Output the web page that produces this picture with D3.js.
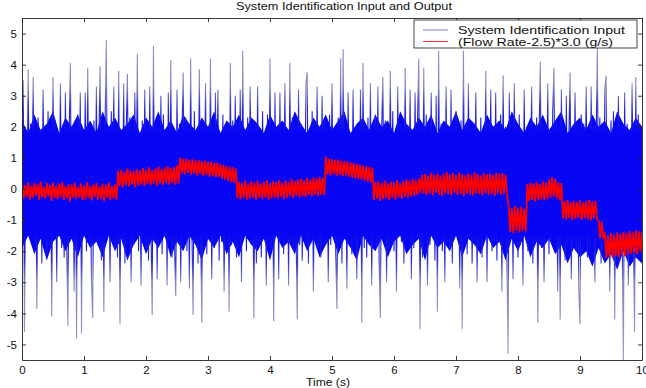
<!DOCTYPE html>
<html>
<head>
<meta charset="utf-8">
<script src="https://cdn.jsdelivr.net/npm/d3@7"></script>
<style>
body { margin: 0; background: #fff; }
svg { display: block; font-family: Arial, "Liberation Sans", sans-serif; }
</style>
</head>
<body>
<svg id="chart" width="646" height="388"></svg>
<script>
const xTicks = [0, 1, 2, 3, 4, 5, 6, 7, 8, 9, 10];
const yTicks = [-5, -4, -3, -2, -1, 0, 1, 2, 3, 4, 5];
const seriesNames = ["System Identification Input", "(Flow Rate-2.5)*3.0 (g/s)"];

// input excitation, one value every 0.02 s (spikes placed where they show)
const inputSignal = [
  2.4, 3.5, -4.6, 1.6, -1.3, 3.85, -1.5, 2.1, -0.9, 3.6,
  -1.7, 1.4, -3.85, 2.3, -1.1, 1.9, -2.4, 3.2, -1.6, 1.2,
  -2.1, 2.5, -1.2, 1.8, -4.1, 3.6, -1.4, 2.2, -3.0, 1.5,
  -0.8, 3.4, -1.9, 1.3, -2.2, 3.1, -1.5, -4.4, 1.7, 4.05,
  -1.6, 2.0, -3.3, 1.5, -4.8, 2.4, -1.2, 3.1, -4.65, 1.9,
  -1.3, 3.1, -2.0, 3.9, -1.7, 1.4, -2.9, -4.15, 2.2, -1.1,
  3.3, -1.8, 1.6, 3.95, -2.3, 1.9, -3.95, 2.1, 4.8, -1.4,
  1.7, -3.0, 2.5, -1.0, 3.3, -1.9, 1.2, -2.2, 3.8, -4.35,
  1.5, -1.6, 3.4, -2.4, 1.8, 3.7, -1.3, 2.3, -3.0, 1.4,
  -1.8, 3.1, -1.1, 4.35, -2.0, 1.7, -3.1, 2.2, -1.5, 3.2,
  -1.9, 1.3, -2.3, 3.3, -1.2, -4.05, 4.6, -1.7, 2.0, -2.9,
  1.6, -1.4, 3.0, -2.1, 2.4, -1.0, 1.9, -3.1, 3.1, -1.6,
  4.15, -2.2, 1.5, -1.8, -3.45, 3.2, -1.3, 2.1, -3.0, 1.8,
  3.75, -1.5, 2.3, -2.0, 1.4, -3.2, 4.2, -1.2, -4.05, 2.5,
  -1.7, 1.9, -2.4, 3.85, -1.1, -4.3, 2.2, -1.6, 3.4, -2.1,
  1.6, -1.3, 4.2, -2.9, 1.8, -1.9, 3.1, -1.0, 3.2, -2.3,
  1.4, -1.7, 2.4, -3.3, 2.0, -1.4, 1.7, -3.95, 4.05, -1.8,
  2.2, -1.2, 3.0, -2.2, 1.5, -1.6, 3.2, -3.0, 4.45, -1.3,
  1.9, -2.0, 2.3, -1.5, 3.3, -1.1, 1.6, -4.15, 2.1, -2.4,
  3.3, -1.7, 1.3, -2.2, 2.5, -1.4, 1.8, -3.1, 2.4, -1.6,
  4.2, -1.9, 1.7, -4.25, 3.1, -1.2, 2.0, -2.9, 3.1, -1.5,
  1.5, -2.1, 3.4, -1.3, 1.9, -3.1, 4.05, -1.6, 2.3, -2.0,
  1.6, -1.4, -4.2, 3.2, -1.8, 2.1, -2.3, 1.4, -1.1, 3.4,
  3.75, -2.4, 1.8, -1.5, 2.5, -3.3, 2.0, -1.2, 3.3, -1.9,
  1.3, -2.2, 3.0, -1.6, 2.2, -1.0, 1.7, -3.0, 2.4, -1.8,
  3.4, -1.3, 1.5, -2.0, -3.85, 2.3, -1.7, 4.2, -2.4, 4.5,
  -1.5, 1.9, -3.2, 3.1, -1.1, 1.4, -2.1, 3.2, -1.6, 2.0,
  -2.9, 1.7, -1.3, 3.2, -4.3, 4.05, -1.9, 1.5, -2.2, 2.3,
  -1.4, 3.4, -3.1, 1.6, -1.0, 2.4, -1.8, 3.3, -2.3, -4.15,
  1.8, 3.6, -1.5, 2.2, -3.0, 1.3, -1.9, 3.8, -1.2, 2.5,
  -2.0, 1.6, -3.3, 3.3, -1.4, 2.1, -1.7, 1.4, -2.4, 3.9,
  -1.6, 2.0, -1.1, 3.2, -2.9, 1.5, -1.9, 3.1, -1.3, 2.3,
  4.2, -4.5, 1.8, -2.2, 3.9, -1.5, 2.4, -3.1, 1.2, -1.8,
  3.1, -1.4, 1.9, -2.3, 3.0, -3.95, 4.45, -1.6, 2.1, -2.0,
  1.5, -3.0, 3.3, -1.2, 1.7, -1.9, 3.2, -2.4, 2.0, -1.5,
  2.5, -1.1, 1.6, -3.2, 2.2, -4.5, 4.45, -1.7, 1.4, -2.1,
  3.4, -1.6, 2.0, -2.4, 1.3, -1.3, 3.1, -3.0, 1.8, -1.8,
  2.3, -2.2, 1.5, -1.4, 3.8, -3.0, 2.1, -1.0, 3.2, -2.0,
  1.6, -1.7, 3.1, -2.3, 1.9, -1.2, 2.4, -3.3, 3.65, -1.5,
  2.0, -2.1, -5.3, 3.1, -1.6, 1.4, -2.9, 3.4, -1.3, 1.7,
  -2.2, 2.4, -1.8, 1.5, -3.1, 3.2, -1.4, 2.0, -2.0, 1.6,
  -1.1, 3.3, -2.4, 1.9, -1.6, 2.3, -4.3, 1.7, 4.1, -1.9,
  2.1, -3.0, 1.4, -1.3, 3.4, -2.1, 1.8, -1.7, 2.5, 3.9,
  -1.5, 2.2, -3.3, 1.6, -4.2, 3.2, -1.2, 2.0, -2.3, 3.0,
  -1.8, 1.5, 3.75, -2.9, 1.9, -1.4, 3.1, -2.0, 1.3, -3.2,
  -4.35, 2.4, -1.6, 2.1, -1.1, 3.3, -2.2, 1.7, -1.9, 3.3,
  -1.3, 2.0, -3.0, 1.6, 4.55, -1.7, 2.3, -2.4, 1.4, -1.5,
  3.2, 3.65, -2.0, 1.8, -3.3, 2.2, -1.2, 2.5, -4.2, 1.5,
  -1.8, 3.0, -2.3, 1.9, -1.4, -5.6, 3.1, -1.6, 2.1, -3.1,
  1.7, -1.9, 3.4, -1.3, -4.6, 3.6, -2.1, 2.4, -1.7, 2.0,
  -1.5
];

// edges of the dense blue region the input fills, every 0.1 s
const inputBandUpper = [
  2.2, 1.8, 2.4, 1.9, 2.1, 2.5, 1.8, 2.3, 2.0, 2.4,
  1.9, 2.2, 1.8, 2.5, 2.0, 2.3, 1.9, 2.1, 2.4, 1.8,
  2.3, 2.0, 2.5, 1.9, 2.2, 1.8, 2.4, 2.1, 1.9, 2.3,
  2.0, 2.5, 1.8, 2.2, 2.0, 2.4, 1.9, 2.3, 2.1, 1.8,
  2.4, 2.0, 2.2, 1.9, 2.5, 2.1, 1.8, 2.3, 2.0, 2.4,
  1.9, 2.2, 2.5, 1.8, 2.1, 2.3, 1.9, 2.4, 2.0, 2.2,
  1.8, 2.5, 2.1, 1.9, 2.3, 2.0, 2.4, 1.8, 2.2, 2.0,
  2.5, 1.9, 2.3, 2.1, 1.8, 2.4, 2.0, 2.2, 1.9, 2.5,
  2.1, 1.8, 2.3, 2.0, 2.4, 1.9, 2.2, 2.5, 1.8, 2.1,
  2.3, 1.9, 2.4, 2.0, 2.2, 1.8, 2.5, 2.1, 1.9, 2.3,
  2.0
];
const inputBandLower = [
  -1.9, -1.5, -2.1, -1.6, -2.3, -1.7, -1.5, -2.0, -1.6, -2.2,
  -1.5, -1.9, -1.7, -2.2, -1.5, -2.0, -1.6, -2.3, -1.8, -1.5,
  -2.1, -1.6, -1.9, -1.5, -2.2, -1.7, -2.0, -1.5, -1.8, -2.3,
  -1.6, -1.9, -1.5, -2.1, -1.7, -2.2, -1.5, -1.8, -2.0, -1.6,
  -2.3, -1.5, -1.9, -1.7, -2.1, -1.5, -2.0, -1.6, -2.2, -1.8,
  -1.5, -2.1, -1.6, -1.9, -2.3, -1.5, -1.8, -2.0, -1.6, -2.2,
  -1.7, -1.5, -2.1, -1.8, -1.6, -2.3, -1.5, -1.9, -1.7, -2.0,
  -1.5, -2.2, -1.6, -1.8, -2.1, -1.5, -1.9, -1.7, -2.3, -1.6,
  -2.0, -1.5, -2.2, -1.7, -1.9, -1.6, -2.1, -1.8, -2.4, -1.9,
  -2.2, -2.0, -2.5, -1.9, -2.4, -2.1, -2.6, -2.0, -2.5, -2.2,
  -2.4
];

// scaled flow rate, one value every 0.025 s
const flowOutput = [
  // 0 - 1.54 s
  0.18, -0.30, 0.12, -0.25, 0.22, -0.34, 0.10, -0.28, 0.20, -0.22,
  0.15, -0.36, 0.24, -0.27, 0.08, -0.31, 0.19, -0.24, 0.13, -0.38,
  0.21, -0.29, 0.11, -0.33, 0.17, -0.26, 0.23, -0.35, 0.09, -0.30,
  0.16, -0.40, 0.14, -0.28, 0.20, -0.32, 0.07, -0.27, 0.18, -0.36,
  0.12, -0.33, 0.22, -0.29, 0.10, -0.37, 0.15, -0.25, 0.19, -0.34,
  0.08, -0.31, 0.17, -0.39, 0.13, -0.28, 0.21, -0.35, 0.10, -0.30,
  0.14, -0.36,
  // 1.54 - 2.54 s
  0.58, 0.10, 0.62, 0.05, 0.55, 0.12, 0.66, 0.08,
  0.60, 0.14, 0.57, 0.06, 0.64, 0.11, 0.59, 0.15, 0.68, 0.09,
  0.62, 0.16, 0.70, 0.12, 0.61, 0.18, 0.66, 0.10, 0.72, 0.17,
  0.64, 0.13, 0.69, 0.19, 0.74, 0.15, 0.67, 0.20, 0.71, 0.14,
  0.76, 0.18,
  // 2.54 - 3.47 s
  1.02, 0.50, 0.96, 0.47, 0.98, 0.52, 0.94, 0.46,
  0.95, 0.49, 0.92, 0.44, 0.93, 0.48, 0.90, 0.42, 0.91, 0.45,
  0.87, 0.40, 0.88, 0.43, 0.84, 0.37, 0.85, 0.39, 0.80, 0.33,
  0.78, 0.30, 0.74, 0.26, 0.72, 0.22, 0.70, 0.20, 0.66,
  // 3.47 - 4.89 s
  -0.30,
  0.24, -0.33, 0.20, -0.28, 0.27, -0.35, 0.18, -0.30, 0.25, -0.27,
  0.21, -0.36, 0.26, -0.29, 0.17, -0.32, 0.23, -0.26, 0.28, -0.34,
  0.19, -0.30, 0.25, -0.27, 0.22, -0.31, 0.29, -0.25, 0.20, -0.33,
  0.27, -0.28, 0.23, -0.24, 0.31, -0.29, 0.26, -0.22, 0.30, -0.27,
  0.33, -0.23, 0.28, -0.26, 0.35, -0.20, 0.30, -0.24, 0.37, -0.19,
  0.34, -0.22, 0.39, -0.18, 0.36, -0.21,
  // 4.89 - 5.67 s
  1.05, 0.46, 0.98, 0.44,
  0.96, 0.48, 0.94, 0.43, 0.95, 0.45, 0.91, 0.41, 0.90, 0.44,
  0.88, 0.39, 0.86, 0.36, 0.84, 0.35, 0.81, 0.32, 0.79, 0.30,
  0.76, 0.27, 0.74, 0.24, 0.71, 0.22, 0.69,
  // 5.67 - 6.43 s
  -0.35, 0.22, -0.31,
  0.25, -0.38, 0.20, -0.33, 0.27, -0.30, 0.18, -0.36, 0.24, -0.29,
  0.21, -0.34, 0.28, -0.27, 0.19, -0.31, 0.26, -0.25, 0.30, -0.28,
  0.27, -0.24, 0.32, -0.22, 0.29, -0.20, 0.34,
  // 6.43 - 7.85 s
  -0.12, 0.45, -0.16,
  0.48, -0.19, 0.44, -0.14, 0.52, -0.21, 0.46, -0.13, 0.50, -0.18,
  0.43, -0.22, 0.49, -0.15, 0.55, -0.17, 0.47, -0.20, 0.51, -0.12,
  0.45, -0.19, 0.53, -0.16, 0.48, -0.23, 0.44, -0.14, 0.50, -0.18,
  0.46, -0.21, 0.54, -0.15, 0.49, -0.17, 0.43, -0.20, 0.52, -0.13,
  0.47, -0.19, 0.50, -0.16, 0.45, -0.22, 0.53, -0.14, 0.48, -0.18,
  0.51, -0.15, 0.46, -0.20,
  // 7.85 - 8.15 s
  -0.58, -1.38, -0.62, -1.42, -0.55, -1.35, -0.60, -1.40, -0.57, -1.33, -0.63, -1.37,
  // 8.15 - 8.73 s
  0.16, -0.38, 0.20, -0.35,
  0.18, -0.40, 0.22, -0.36, 0.17, -0.33, 0.24, -0.37, 0.21, -0.32,
  0.30, -0.28, 0.38, -0.25, 0.33, -0.30, 0.22, -0.36, 0.19,
  // 8.73 - 9.29 s
  -0.95,
  -0.40, -0.98, -0.36, -0.94, -0.42, -1.00, -0.38, -0.96, -0.41, -0.93,
  -0.37, -0.99, -0.43, -0.95, -0.39, -0.97, -0.35, -1.01, -0.40, -0.94,
  -0.38, -0.98,
  // 9.29 - 9.41 s
  -1.02, -1.58, -1.05, -1.55,
  // 9.41 - 10 s
  -1.45, -2.22, -1.50, -2.18,
  -1.42, -2.20, -1.47, -2.15, -1.40, -2.19, -1.44, -2.12, -1.38, -2.16,
  -1.41, -2.10, -1.35, -2.08, -1.39, -2.05, -1.33, -2.09, -1.36, -2.03,
  -1.38
];

const width = 646;
const height = 388;
const margin = { top: 18, right: 4, bottom: 28, left: 22 };
const blue = "#0606f4";
const red = "#ff0000";

const svg = d3.select("#chart");

const x = d3.scaleLinear().domain([0, 10]).range([margin.left, width - margin.right]);
const y = d3.scaleLinear().domain([-5.5, 5.5]).range([height - margin.bottom, margin.top]);

const defs = svg.append("defs");
defs.append("clipPath")
    .attr("id", "plot-clip")
    .append("rect")
    .attr("x", margin.left)
    .attr("y", margin.top)
    .attr("width", x(10) - x(0))
    .attr("height", y(-5.5) - y(5.5));

// thin isolated spikes read greyish-blue, the dense part near the core saturated blue
const spikeStops = [
    [5.5, "#9c9cc8"], [3.3, "#8282c0"], [2.6, "#3030d0"], [1.8, blue],
    [-1.4, blue], [-2.3, "#3030d0"], [-3.0, "#8282c0"], [-5.5, "#9c9cc8"]
];
const grad = defs.append("linearGradient")
    .attr("id", "spike-grad")
    .attr("gradientUnits", "userSpaceOnUse")
    .attr("x1", 0).attr("x2", 0)
    .attr("y1", y(5.5)).attr("y2", y(-5.5));
grad.selectAll("stop")
    .data(spikeStops)
    .join("stop")
    .attr("offset", d => (5.5 - d[0]) / 11)
    .attr("stop-color", d => d[1]);

const tOf = (arr, i) => i * 10 / (arr.length - 1);
const sampled = arr => d3.line()
    .x((d, i) => x(tOf(arr, i)))
    .y(d => y(d));

const plot = svg.append("g").attr("clip-path", "url(#plot-clip)");

// dense body of the input trace
plot.append("path")
    .datum(inputBandUpper)
    .attr("fill", blue)
    .attr("d", d3.area()
        .x((d, i) => x(tOf(inputBandUpper, i)))
        .y0((d, i) => y(inputBandLower[i]))
        .y1(d => y(d)));

plot.append("path")
    .datum(inputSignal)
    .attr("fill", "none")
    .attr("stroke", "url(#spike-grad)")
    .attr("stroke-width", 1.1)
    .attr("d", sampled(inputSignal));

plot.append("path")
    .datum(flowOutput)
    .attr("fill", "none")
    .attr("stroke", red)
    .attr("stroke-width", 1.8)
    .attr("d", sampled(flowOutput));

// matlab style box with inward ticks on all four sides
const fmt = d => String(d);
const axes = [
    { axis: d3.axisBottom(x).tickValues(xTicks).tickFormat(fmt).tickPadding(6), t: `translate(0,${y(-5.5)})` },
    { axis: d3.axisTop(x).tickValues(xTicks).tickFormat(""), t: `translate(0,${y(5.5)})` },
    { axis: d3.axisLeft(y).tickValues(yTicks).tickFormat(fmt).tickPadding(5), t: `translate(${x(0)},0)` },
    { axis: d3.axisRight(y).tickValues(yTicks).tickFormat(""), t: `translate(${x(10)},0)` }
];

axes.forEach(a => {
    const g = svg.append("g")
        .attr("transform", a.t)
        .call(a.axis.tickSizeInner(-4).tickSizeOuter(0));
    g.attr("font-family", "Arial, 'Liberation Sans', sans-serif").attr("font-size", 11.5);
    g.select(".domain").attr("stroke", "#222").attr("stroke-width", 0.9);
    g.selectAll(".tick line").attr("stroke", "#222").attr("stroke-width", 0.9);
    g.selectAll(".tick text").attr("fill", "#111");
});

svg.append("text")
    .attr("x", 236)
    .attr("y", 10)
    .attr("font-size", 10.5)
    .attr("textLength", 216)
    .attr("lengthAdjust", "spacingAndGlyphs")
    .attr("fill", "#111")
    .text("System Identification Input and Output");

svg.append("text")
    .attr("x", 306)
    .attr("y", 386)
    .attr("font-size", 11)
    .attr("textLength", 44)
    .attr("lengthAdjust", "spacingAndGlyphs")
    .attr("fill", "#111")
    .text("Time (s)");

// legend
const legend = svg.append("g");
legend.append("rect")
    .attr("x", 414)
    .attr("y", 20)
    .attr("width", 223)
    .attr("height", 28)
    .attr("fill", "#fff")
    .attr("stroke", "#333")
    .attr("stroke-width", 0.9);

const legendColors = ["#5a5ad0", red];
const legendLengths = [167, 155];
seriesNames.forEach((name, i) => {
    const ly = 30 + i * 11.5;
    legend.append("line")
        .attr("x1", 423).attr("x2", 448)
        .attr("y1", ly).attr("y2", ly)
        .attr("stroke", legendColors[i])
        .attr("stroke-width", 0.8);
    legend.append("text")
        .attr("x", 458)
        .attr("y", ly + 4)
        .attr("font-size", 11.5)
        .attr("textLength", legendLengths[i])
        .attr("lengthAdjust", "spacingAndGlyphs")
        .attr("fill", "#111")
        .text(name);
});
</script>
</body>
</html>
